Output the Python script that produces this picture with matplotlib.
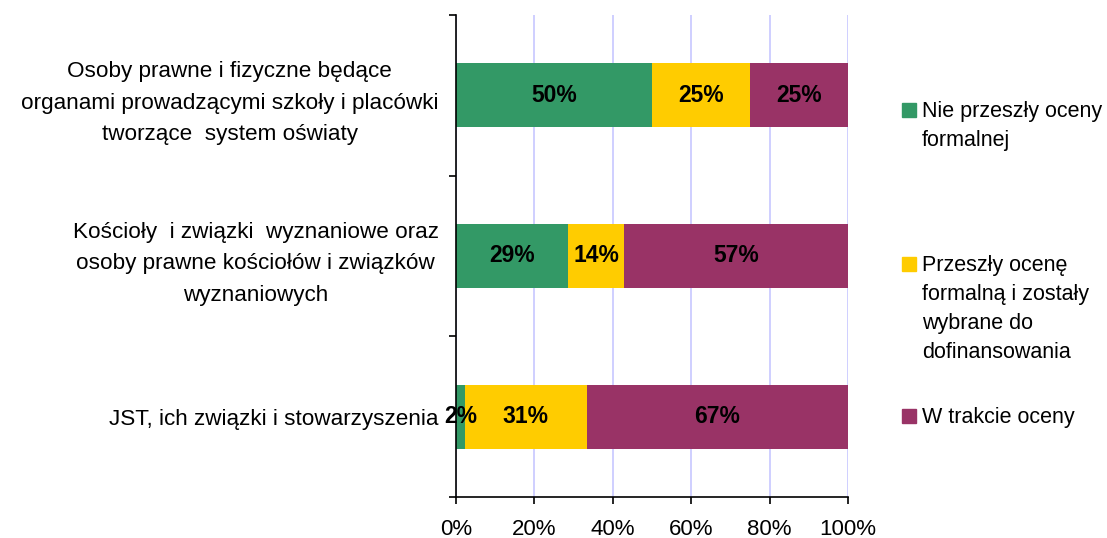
import matplotlib
matplotlib.use('Agg')
import matplotlib.pyplot as plt
import numpy as np
from matplotlib.patches import Rectangle

plt.rcParams['font.family'] = ['Liberation Sans', 'DejaVu Sans']

categories = ["Osoby prawne i fizyczne będące\norganami prowadzącymi szkoły i placówki\ntworzące  system oświaty",
              "Kościoły  i związki  wyznaniowe oraz\nosoby prawne kościołów i związków\nwyznaniowych",
              "JST, ich związki i stowarzyszenia"]
series_names = ["Nie przeszły oceny\nformalnej",
                "Przeszły ocenę\nformalną i zostały\nwybrane do\ndofinansowania",
                "W trakcie oceny"]
nie_przeszly = [50.0, 28.57, 2.2]
przeszly = [25.0, 14.29, 31.1]
w_trakcie = [25.0, 57.14, 66.7]
colors = ['#339966', '#FFCC00', '#993366']
xticks = [0, 20, 40, 60, 80, 100]

fig = plt.figure(figsize=(11.07, 5.38), dpi=100)
ax = fig.add_axes([456/1107, 1 - 497/538, 392/1107, 482/538])

ypos = np.arange(len(categories))[::-1]
left = np.zeros(len(categories))
for vals, col in zip([nie_przeszly, przeszly, w_trakcie], colors):
    bars = ax.barh(ypos, vals, left=left, height=0.4, color=col, zorder=2)
    ax.bar_label(bars, labels=['%.0f%%' % v for v in vals], label_type='center',
                 fontsize=16.5, fontweight='bold', color='black')
    left = left + np.array(vals)

ax.set_xlim(0, 100)
ax.set_ylim(-0.5, 2.5)
ax.set_xticks(xticks)
ax.set_xticklabels(['%d%%' % t for t in xticks])
ax.grid(axis='x', color='#CCCCFF', linewidth=1.3, zorder=0)
ax.set_axisbelow(True)

ax.set_yticks([-0.5, 0.5, 1.5, 2.5])
ax.set_yticklabels([])
ax.set_yticks(ypos, minor=True)
ax.set_yticklabels(categories, minor=True)
for lab in ax.get_yticklabels(minor=True):
    lab.set_multialignment('center')
    lab.set_linespacing(1.65)
ax.tick_params(axis='y', which='minor', length=0, pad=12.5, labelsize=16.2)
ax.tick_params(axis='y', which='major', length=5, width=1.2, direction='out')
ax.tick_params(axis='x', length=5, width=1.2, direction='out', pad=11, labelsize=16)

for s in ['top', 'right']:
    ax.spines[s].set_visible(False)
for s in ['left', 'bottom']:
    ax.spines[s].set_linewidth(1.2)

# legend drawn by hand to keep the uneven spacing of the original
leg_y = [110, 264, 416]
for name, col, yy in zip(series_names, colors, leg_y):
    fig.patches.append(Rectangle((902/1107, 1 - (yy + 7)/538), 14/1107, 14/538,
                                 transform=fig.transFigure, color=col))
    fig.text(922/1107, 1 - (yy - 9)/538, name, fontsize=15.5, va='top', ha='left',
             linespacing=1.5)

fig.savefig('out.png', dpi=100)
